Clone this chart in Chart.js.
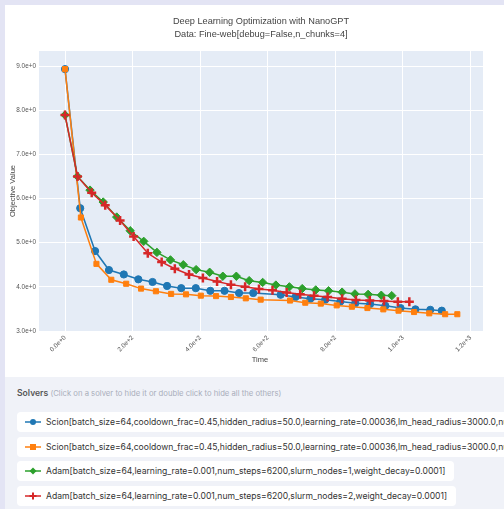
<!DOCTYPE html>
<html>
<head>
<meta charset="utf-8">
<script src="https://cdn.jsdelivr.net/npm/chart.js@4.4.1/dist/chart.umd.min.js"></script>
<style>
  html, body { margin: 0; padding: 0; }
  body { width: 504px; height: 509px; background: #e3e4f4; position: relative; overflow: hidden; font-family: "Liberation Sans", Arial, sans-serif; }
  #card { position: absolute; left: 5px; top: 5px; width: 499px; height: 372px; background: #fff; }
  #panel { position: absolute; left: 5px; top: 377px; width: 499px; height: 132px; background: #f0f2f8; overflow: hidden; }
  #panel h4 { margin: 0; position: absolute; left: 12px; top: 11px; font: 600 8.6px Inter, sans-serif; color: #555; white-space: nowrap; }
  #panel h4 span { font-weight: normal; color: #a9aebb; font-size: 7.7px; }
  .item { position: absolute; left: 12px; height: 20px; background: #fff; border-radius: 4px; white-space: nowrap; font: 8.6px Inter, sans-serif; color: #333; line-height: 20px; padding: 0 9px 0 29px; }
  .item svg { position: absolute; left: 8px; top: 5px; }
</style>
</head>
<body>
<div id="card"><canvas id="chart" width="499" height="372"></canvas></div>
<div id="panel">
  <h4>Solvers <span>(Click on a solver to hide it or double click to hide all the others)</span></h4>
  <div id="items"></div>
</div>
<script>
const seriesNames = [
  'Scion[batch_size=64,cooldown_frac=0.45,hidden_radius=50.0,learning_rate=0.00036,lm_head_radius=3000.0,num_steps=6200,slurm_nodes=1]',
  'Scion[batch_size=64,cooldown_frac=0.45,hidden_radius=50.0,learning_rate=0.00036,lm_head_radius=3000.0,num_steps=6200,slurm_nodes=2]',
  'Adam[batch_size=64,learning_rate=0.001,num_steps=6200,slurm_nodes=1,weight_decay=0.0001]',
  'Adam[batch_size=64,learning_rate=0.001,num_steps=6200,slurm_nodes=2,weight_decay=0.0001]'
];
const colors = ['#1f77b4', '#ff7f0e', '#2ca02c', '#d62728'];

const scion1Time = [0, 45, 89, 130, 174, 217, 259, 302, 344, 387, 430, 472, 515, 557, 638, 682, 726, 770, 815, 859, 903, 948, 993, 1037, 1081, 1115];
const scion1Value = [8.93, 5.78, 4.81, 4.38, 4.28, 4.17, 4.11, 4.02, 3.97, 3.97, 3.91, 3.91, 3.86, 3.86, 3.82, 3.77, 3.73, 3.71, 3.67, 3.63, 3.61, 3.57, 3.52, 3.49, 3.48, 3.46];

const scion2Time = [0, 47, 93, 137, 181, 225, 269, 314, 358, 402, 447, 491, 535, 579, 666, 711, 757, 804, 849, 895, 942, 987, 1033, 1078, 1125, 1161];
const scion2Value = [8.93, 5.57, 4.52, 4.16, 4.07, 3.96, 3.90, 3.84, 3.83, 3.80, 3.79, 3.77, 3.74, 3.71, 3.69, 3.64, 3.62, 3.58, 3.55, 3.52, 3.49, 3.46, 3.43, 3.40, 3.38, 3.38];

const adam1Time = [0, 37, 74, 113, 153, 193, 233, 272, 312, 350, 388, 428, 467, 507, 545, 585, 624, 664, 702, 742, 780, 820, 858, 897, 936, 967];
const adam1Value = [7.89, 6.50, 6.19, 5.92, 5.58, 5.27, 5.03, 4.78, 4.61, 4.50, 4.39, 4.33, 4.24, 4.24, 4.14, 4.10, 4.04, 4.00, 3.96, 3.93, 3.91, 3.88, 3.84, 3.83, 3.81, 3.80];

const adam2Time = [0, 37, 79, 119, 163, 203, 245, 286, 325, 367, 408, 450, 491, 533, 574, 614, 656, 696, 737, 777, 820, 861, 902, 944, 985, 1019];
const adam2Value = [7.89, 6.50, 6.13, 5.85, 5.50, 5.14, 4.76, 4.56, 4.41, 4.28, 4.20, 4.12, 4.05, 4.00, 3.95, 3.92, 3.87, 3.83, 3.80, 3.77, 3.73, 3.70, 3.69, 3.68, 3.66, 3.66];

const xTicks = [0, 200, 400, 600, 800, 1000, 1200];
const yTicks = [3, 4, 5, 6, 7, 8, 9];

const times = [scion1Time, scion2Time, adam1Time, adam2Time];
const values = [scion1Value, scion2Value, adam1Value, adam2Value];
const markers = ['circle', 'rect', 'rectRot', 'cross'];
const markerSize = [3.6, 3.6, 4.2, 4.5];
const markerBorder = [1, 1, 1, 2.5];

const datasets = seriesNames.map((name, i) => ({
  label: name,
  data: times[i].map((t, j) => ({ x: t, y: values[i][j] })),
  borderColor: colors[i],
  backgroundColor: colors[i],
  pointBackgroundColor: colors[i],
  pointBorderColor: colors[i],
  pointStyle: markers[i],
  pointRadius: markerSize[i],
  pointBorderWidth: markerBorder[i],
  borderWidth: 1.5,
  order: 4 - i
}));

// plot background + titles
const decor = {
  id: 'decor',
  beforeDraw(chart) {
    const { ctx, chartArea: a } = chart;
    ctx.save();
    ctx.fillStyle = '#e5ecf6';
    ctx.fillRect(a.left, a.top, a.right - a.left, a.bottom - a.top);
    ctx.restore();
  },
  afterDraw(chart) {
    const { ctx, chartArea: a } = chart;
    const cx = (a.left + a.right) / 2;
    ctx.save();
    ctx.fillStyle = '#444';
    ctx.textAlign = 'center';
    ctx.textBaseline = 'middle';
    ctx.font = '9.2px "Liberation Sans", Arial, sans-serif';
    ctx.fillText('Deep Learning Optimization with NanoGPT', cx, 16);
    ctx.fillText('Data: Fine-web[debug=False,n_chunks=4]', cx, 29);
    ctx.font = '7.5px "Liberation Sans", Arial, sans-serif';
    ctx.fillText('Time', cx - 1, 355);
    ctx.translate(8, (a.top + a.bottom) / 2);
    ctx.rotate(-Math.PI / 2);
    ctx.fillText('Objective Value', 0, 0);
    ctx.restore();
  }
};

new Chart(document.getElementById('chart'), {
  type: 'line',
  data: { datasets },
  plugins: [decor],
  options: {
    responsive: false,
    animation: false,
    layout: { padding: { left: 0, right: 21, top: 46, bottom: 0 } },
    plugins: { legend: { display: false }, tooltip: { enabled: false } },
    scales: {
      x: {
        type: 'linear',
        min: -77,
        max: 1237,
        afterBuildTicks(s) { s.ticks = xTicks.map(v => ({ value: v })); },
        afterFit(s) { s.height = 46; },
        grid: { color: '#ffffff', lineWidth: 1, drawTicks: false },
        border: { display: false },
        ticks: {
          minRotation: 45, maxRotation: 45, padding: 3,
          color: '#555', font: { size: 6.4, family: '"Liberation Sans", Arial' },
          callback: v => v.toExponential(1)
        }
      },
      y: {
        min: 3.0,
        max: 9.34,
        afterBuildTicks(s) { s.ticks = yTicks.map(v => ({ value: v })); },
        afterFit(s) { s.width = 34; },
        grid: { color: '#ffffff', lineWidth: 1, drawTicks: false },
        border: { display: false },
        ticks: {
          padding: 3,
          color: '#555', font: { size: 6.4, family: '"Liberation Sans", Arial' },
          callback: v => v.toExponential(1)
        }
      }
    }
  }
});

// html legend
const shapes = [
  c => `<circle cx="8" cy="5" r="3" fill="${c}"/>`,
  c => `<rect x="5" y="2" width="6" height="6" fill="${c}"/>`,
  c => `<path d="M8 1.5 L11.5 5 L8 8.5 L4.5 5 Z" fill="${c}"/>`,
  c => `<path d="M8 1.5 V8.5 M4.5 5 H11.5" stroke="${c}" stroke-width="2"/>`
];
const itemTops = [35, 59.5, 84, 109];
const box = document.getElementById('items');
seriesNames.forEach((name, i) => {
  const d = document.createElement('div');
  d.className = 'item';
  d.style.top = itemTops[i] + 'px';
  d.innerHTML = `<svg width="16" height="10"><line x1="0" y1="5" x2="16" y2="5" stroke="${colors[i]}" stroke-width="1.5"/>${shapes[i](colors[i])}</svg>${name}`;
  box.appendChild(d);
});
</script>
</body>
</html>
